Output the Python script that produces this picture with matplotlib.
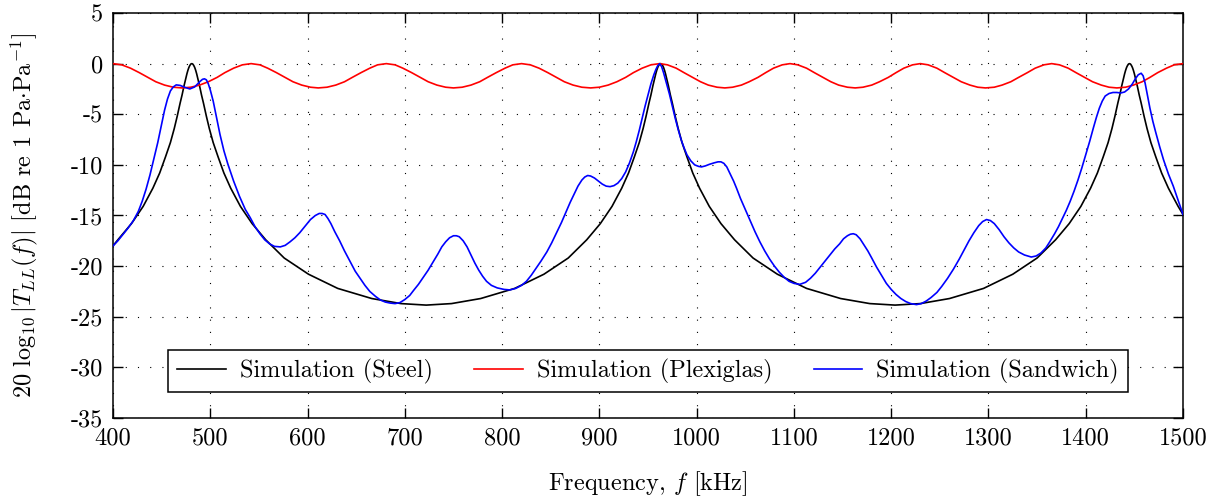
import matplotlib
matplotlib.use("Agg")
import matplotlib.pyplot as plt

plt.rcParams["font.family"] = "serif"
plt.rcParams["font.serif"] = ["cmr10", "DejaVu Serif"]
plt.rcParams["mathtext.fontset"] = "cm"
plt.rcParams["axes.unicode_minus"] = False
plt.rcParams["axes.formatter.use_mathtext"] = True

FS = 17.5

# ---- data (frequency in kHz, level in dB) ----
steel_f = [400, 405, 419, 431, 441, 448, 454, 459, 463, 466, 469, 471, 473, 475,
           476, 477, 478, 479, 480, 481,
           482, 483, 484, 485, 486, 487, 489, 491, 493, 496, 499, 503, 508, 514,
           521, 531, 543, 557, 576, 601, 631, 666, 696, 722,
           748, 778, 813, 843, 868, 887, 901, 913, 923, 930, 936, 941, 945, 948,
           951, 953, 955, 957, 958, 959, 960, 961, 962, 963,
           964, 965, 966, 967, 968, 969, 971, 973, 975, 978, 981, 985, 990, 996,
           1003, 1013, 1025, 1039, 1058, 1083, 1113, 1148, 1178, 1204,
           1230, 1260, 1295, 1325, 1350, 1369, 1383, 1395, 1405, 1412, 1418, 1423,
           1427, 1430, 1433, 1435, 1437, 1439, 1440, 1441, 1442, 1443, 1444, 1445,
           1446, 1447, 1448, 1449, 1450, 1451, 1453, 1455, 1457, 1460, 1463, 1467,
           1472, 1478, 1485, 1495, 1500]
steel_db = [-18.0, -17.4, -15.8, -14.1, -12.3, -10.8, -9.2, -7.8, -6.4, -5.2, -3.9,
            -3.1, -2.2, -1.4, -1.0, -0.66, -0.38, -0.18, -0.04, 0.0,
            -0.04, -0.18, -0.38, -0.66, -1.0, -1.4, -2.2, -3.1, -3.9, -5.2, -6.4,
            -7.8, -9.2, -10.8, -12.3, -14.1, -15.8, -17.4, -19.2, -20.8, -22.2,
            -23.2, -23.7, -23.85,
            -23.7, -23.2, -22.2, -20.8, -19.2, -17.4, -15.8, -14.1, -12.3, -10.8,
            -9.2, -7.8, -6.4, -5.2, -3.9, -3.1, -2.2, -1.4, -1.0, -0.66, -0.38,
            -0.18, -0.04, 0.0,
            -0.04, -0.18, -0.38, -0.66, -1.0, -1.4, -2.2, -3.1, -3.9, -5.2, -6.4,
            -7.8, -9.2, -10.8, -12.3, -14.1, -15.8, -17.4, -19.2, -20.8, -22.2,
            -23.2, -23.7, -23.85,
            -23.7, -23.2, -22.2, -20.8, -19.2, -17.4, -15.8, -14.1, -12.3, -10.8,
            -9.2, -7.8, -6.4, -5.2, -3.9, -3.1, -2.2, -1.4, -1.0, -0.66, -0.38,
            -0.18, -0.04, 0.0,
            -0.04, -0.18, -0.38, -0.66, -1.0, -1.4, -2.2, -3.1, -3.9, -5.2, -6.4,
            -7.8, -9.2, -10.8, -12.3, -14.1, -14.9]

plexi_f = [400, 409, 418, 427, 436, 444, 453, 462, 471, 480, 489, 498, 507, 515,
           524, 533,
           542, 551, 559, 568, 577, 585, 594, 603, 611, 620, 629, 638, 646, 655,
           664, 672,
           681, 690, 698, 707, 716, 724, 733, 742, 750, 759, 768, 777, 785, 794,
           803, 811,
           820, 829, 838, 847, 856, 864, 873, 882, 891, 900, 909, 918, 927, 935,
           944, 953,
           962, 970, 979, 987, 996, 1004, 1012, 1021, 1029, 1037, 1046, 1054,
           1063, 1071, 1079, 1088,
           1096, 1104, 1113, 1121, 1130, 1138, 1146, 1155, 1163, 1171, 1180, 1188,
           1197, 1205, 1213, 1222,
           1230, 1238, 1247, 1255, 1264, 1272, 1281, 1289, 1297, 1306, 1314, 1323,
           1331, 1340, 1348, 1357,
           1365, 1373, 1382, 1390, 1399, 1407, 1416, 1424, 1432, 1441, 1449, 1458,
           1466, 1474, 1483, 1491, 1500]
plexi_db = [0.0, -0.12, -0.45, -0.89, -1.36, -1.79, -2.12, -2.33, -2.4, -2.33,
            -2.12, -1.79, -1.36, -0.89, -0.45, -0.12,
            0.0, -0.12, -0.45, -0.89, -1.36, -1.79, -2.12, -2.33, -2.4, -2.33,
            -2.12, -1.79, -1.36, -0.89, -0.45, -0.12,
            0.0, -0.12, -0.45, -0.89, -1.36, -1.79, -2.12, -2.33, -2.4, -2.33,
            -2.12, -1.79, -1.36, -0.89, -0.45, -0.12,
            0.0, -0.12, -0.45, -0.89, -1.36, -1.79, -2.12, -2.33, -2.4, -2.33,
            -2.12, -1.79, -1.36, -0.89, -0.45, -0.12,
            0.0, -0.12, -0.45, -0.89, -1.36, -1.79, -2.12, -2.33, -2.4, -2.33,
            -2.12, -1.79, -1.36, -0.89, -0.45, -0.12,
            0.0, -0.12, -0.45, -0.89, -1.36, -1.79, -2.12, -2.33, -2.4, -2.33,
            -2.12, -1.79, -1.36, -0.89, -0.45, -0.12,
            0.0, -0.12, -0.45, -0.89, -1.36, -1.79, -2.12, -2.33, -2.4, -2.33,
            -2.12, -1.79, -1.36, -0.89, -0.45, -0.12,
            0.0, -0.12, -0.45, -0.89, -1.36, -1.79, -2.12, -2.33, -2.4, -2.33,
            -2.12, -1.79, -1.36, -0.89, -0.45, -0.12, 0.0]

sand_f = [400, 405, 410, 415, 421, 426, 430, 434, 438, 442, 446, 450, 453, 456,
          459, 462, 465, 469, 474, 479, 484, 489, 492, 494, 496, 498, 500, 503,
          506, 510, 514, 518, 524, 530, 536, 541, 546, 551, 556, 561, 566, 572,
          577, 582, 587, 592, 598, 603, 608, 612, 615, 618, 621, 624, 628, 633,
          638, 644, 649, 654, 659, 664, 670, 675, 680, 685, 690, 695, 700, 705,
          709, 714, 719, 724, 729, 734, 738, 742, 746, 750, 753, 756, 760, 764,
          768, 772, 776, 780, 784, 789, 795, 802, 808, 814, 820, 825, 830, 835,
          840, 846, 851, 856, 861, 866, 870, 874, 878, 882, 885, 888, 891, 895,
          899, 903, 907, 911, 915, 919, 923, 927, 931, 935, 938, 941, 944, 947,
          950, 953, 956, 958, 960, 962, 964, 966, 968, 970, 972, 975, 978, 981,
          984, 987, 990, 994, 998, 1002, 1005, 1009, 1013, 1018, 1022, 1025, 1028,
          1031, 1034, 1038, 1041, 1045, 1050, 1055, 1060, 1065, 1070, 1075, 1080,
          1085, 1090, 1095, 1100, 1106, 1112, 1117, 1122, 1127, 1132, 1137, 1142,
          1147, 1151, 1155, 1158, 1161, 1164, 1168, 1172, 1176, 1180, 1185, 1190,
          1195, 1200, 1205, 1210, 1215, 1220, 1226, 1231, 1236, 1241, 1247, 1252,
          1258, 1264, 1270, 1275, 1280, 1285, 1290, 1294, 1298, 1302, 1306, 1311,
          1316, 1321, 1326, 1331, 1337, 1344, 1349, 1354, 1359, 1363, 1368, 1372,
          1376, 1380, 1384, 1388, 1392, 1396, 1400, 1404, 1408, 1411, 1414, 1417,
          1420, 1424, 1428, 1432, 1436, 1440, 1444, 1448, 1451, 1454, 1457, 1459,
          1461, 1463, 1466, 1469, 1472, 1476, 1480, 1485, 1490, 1495, 1500]
sand_db = [-18.0, -17.5, -16.9, -16.3, -15.5, -14.6, -13.6, -12.4, -11.0, -9.4,
           -7.8, -6.0, -4.6, -3.5, -2.7, -2.3, -2.1, -2.15, -2.35, -2.5, -2.3,
           -1.8, -1.55, -1.5, -1.6, -2.0, -2.6, -3.7, -5.1, -7.0, -8.6, -9.9,
           -11.6, -13.1, -14.4, -15.2, -16.1, -16.8, -17.4, -17.8, -18.05, -18.1,
           -17.95, -17.6, -17.2, -16.7, -16.0, -15.4, -15.0, -14.8, -14.8, -14.9,
           -15.3, -15.8, -16.6, -17.5, -18.5, -19.6, -20.5, -21.2, -21.9, -22.5,
           -23.0, -23.35, -23.55, -23.65, -23.7, -23.6, -23.3, -22.9, -22.4,
           -21.8, -21.1, -20.4, -19.6, -18.8, -18.1, -17.6, -17.2, -17.0, -17.0,
           -17.1, -17.5, -18.1, -18.9, -19.7, -20.4, -21.0, -21.5, -21.9, -22.15,
           -22.3, -22.35, -22.2, -21.9, -21.5, -20.9, -20.2, -19.5, -18.6, -17.7,
           -16.7, -15.7, -14.6, -13.7, -12.9, -12.1, -11.5, -11.2, -11.05, -11.1,
           -11.3, -11.6, -11.9, -12.1, -12.15, -12.05, -11.8, -11.35, -10.7, -9.8,
           -8.7, -7.7, -6.6, -5.4, -4.2, -3.1, -2.0, -1.1, -0.6, -0.2, 0.0, -0.3,
           -0.9, -1.6, -2.3, -3.0, -4.2, -5.4, -6.5, -7.5, -8.3, -9.0, -9.6, -10.0,
           -10.15, -10.2, -10.1, -9.95, -9.8, -9.7, -9.7, -9.85, -10.2, -10.8,
           -11.6, -12.3, -13.3, -14.4, -15.5, -16.6, -17.6, -18.5, -19.3, -20.0,
           -20.6, -21.1, -21.5, -21.7, -21.8, -21.6, -21.2, -20.7, -20.1, -19.5,
           -18.9, -18.3, -17.8, -17.3, -17.0, -16.85, -16.8, -16.9, -17.3, -17.9,
           -18.5, -19.2, -20.1, -20.9, -21.7, -22.3, -22.8, -23.2, -23.5, -23.7,
           -23.8, -23.7, -23.45, -23.1, -22.6, -22.0, -21.2, -20.3, -19.3, -18.4,
           -17.5, -16.7, -16.0, -15.6, -15.4, -15.5, -15.8, -16.4, -17.1, -17.7,
           -18.2, -18.6, -18.9, -19.1, -19.0, -18.7, -18.2, -17.6, -16.8, -16.1,
           -15.3, -14.5, -13.6, -12.6, -11.5, -10.3, -9.0, -7.7, -6.3, -5.3, -4.4,
           -3.7, -3.2, -2.95, -2.85, -2.85, -2.9, -2.8, -2.5, -2.0, -1.5, -1.1,
           -0.95, -1.2, -1.9, -2.9, -4.4, -5.7, -6.8, -8.2, -9.5, -10.9, -12.1,
           -13.5, -14.9]

x_ticks = [400, 500, 600, 700, 800, 900, 1000, 1100, 1200, 1300, 1400, 1500]
y_ticks = [-35, -30, -25, -20, -15, -10, -5, 0, 5]
y_ticklabels = ["-35", "-30", "-25", "-20", "-15", "-10", "-5", "0", "5"]

fig = plt.figure(figsize=(12.23, 5.0), dpi=100)
ax = fig.add_axes([113 / 1223, 82 / 500, 1070 / 1223, 405 / 500])

ax.plot(steel_f, steel_db, color="black", lw=1.2, label="Simulation (Steel)", zorder=3)
ax.plot(plexi_f, plexi_db, color="#ff0000", lw=1.2, label="Simulation (Plexiglas)", zorder=3)
ax.plot(sand_f, sand_db, color="#0000ff", lw=1.2, label="Simulation (Sandwich)", zorder=3)

ax.set_xlim(400, 1500)
ax.set_ylim(-35, 5)
ax.set_xticks(x_ticks)
ax.set_xticklabels([str(t) for t in x_ticks])
ax.set_yticks(y_ticks)
ax.set_yticklabels(y_ticklabels)
ax.tick_params(direction="in", top=True, right=True, length=7, width=1.0,
               labelsize=FS, pad=7, colors="black")
ax.grid(True, color="black", linestyle=(0, (1, 10)), linewidth=0.8)
for s in ax.spines.values():
    s.set_linewidth(1.1)

ax.set_xlabel(r"Frequency, $f$ [kHz]", fontsize=FS, labelpad=14)
ax.set_ylabel(r"$20\ \log_{10}|T_{LL}(f)|$ [dB re 1 Pa$\cdot$Pa$^{-1}$]",
              fontsize=FS, labelpad=22)

leg = ax.legend(loc="lower center", bbox_to_anchor=(0.5, 0.064), ncol=3,
                fontsize=FS, frameon=True, fancybox=False, framealpha=1,
                edgecolor="black", handlelength=2.0, handletextpad=0.58,
                columnspacing=1.7, borderpad=0.35, borderaxespad=0.0)
leg.get_frame().set_linewidth(1.1)

fig.savefig("out.png", dpi=100)
